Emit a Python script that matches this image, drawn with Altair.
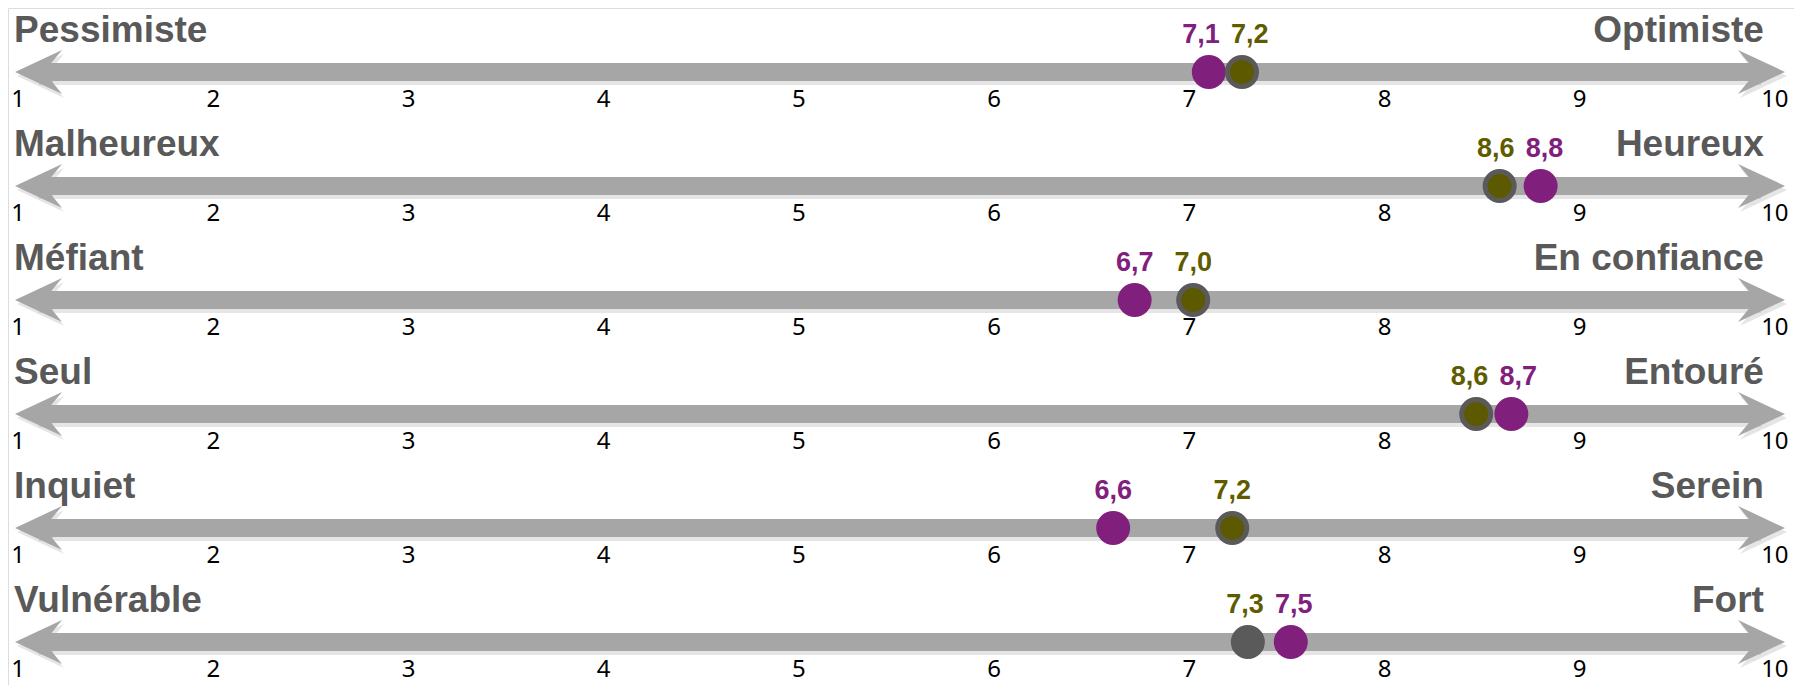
import altair as alt
import pandas as pd

# ---- data ----
left_labels = ["Pessimiste", "Malheureux", "Méfiant", "Seul", "Inquiet", "Vulnérable"]
right_labels = ["Optimiste", "Heureux", "En confiance", "Entouré", "Serein", "Fort"]
# printed values
purple_values = [7.1, 8.8, 6.7, 8.7, 6.6, 7.5]
olive_values = [7.2, 8.6, 7.0, 8.6, 7.2, 7.3]
# where the markers sit on the scale
purple_marker = [7.10, 8.80, 6.72, 8.65, 6.61, 7.52]
olive_marker = [7.27, 8.59, 7.02, 8.47, 7.22, 7.30]
tick_values = list(range(1, 11))

# ---- scale / arrow constants (data units) ----
XMIN, XMAX = 0.948, 10.098
YMIN, YMAX = -0.561, 5.377
TIP_L, TIP_R = 0.984, 10.052
HEAD_HALF = 0.123            # half of arrow-head box in data units
LABEL_L, LABEL_R = 0.979, 9.944
MIN_LABEL_GAP = 0.25         # minimal distance between the two value labels of a row

PURPLE = "#80207c"
OLIVE_TXT = "#5f5c00"
OLIVE_FILL = "#5c5900"
RING = "#5a5a5a"
BAR = "#a6a6a6"
TXT_GRAY = "#595959"

def fmt(v):
    return f"{v:.1f}".replace(".", ",")

n = len(left_labels)
rows = pd.DataFrame({
    "row": list(range(n)),
    "left": left_labels,
    "right": right_labels,
    "tip_l": [TIP_L] * n,
    "tip_r": [TIP_R] * n,
})
rows["head_l"] = rows["tip_l"] + HEAD_HALF
rows["head_r"] = rows["tip_r"] - HEAD_HALF
rows["lab_l"] = LABEL_L
rows["lab_r"] = LABEL_R

ticks = pd.DataFrame([{"row": r, "t": t, "tl": str(t)} for r in range(n) for t in tick_values])
purple = pd.DataFrame({"row": list(range(n)), "v": purple_marker,
                       "lab": [fmt(v) for v in purple_values]})
olive = pd.DataFrame({"row": list(range(n)), "v": olive_marker,
                      "lab": [fmt(v) for v in olive_values]})

# spread the value labels apart when two markers are close
d = (olive["v"] - purple["v"])
push = ((MIN_LABEL_GAP - d.abs()).clip(lower=0) / 2)
sign = d.apply(lambda s: 1 if s >= 0 else -1)
olive["lv"] = olive["v"] + sign * push
purple["lv"] = purple["v"] - sign * push

xs = alt.Scale(domain=[XMIN, XMAX])
ys = alt.Scale(domain=[YMIN, YMAX], reverse=True)
Y = alt.Y("row:Q", scale=ys, axis=None)

def X(field):
    return alt.X(field, type="quantitative", scale=xs, axis=None)

LEFT_HEAD = "M -1 0 L 0.96 -0.92 L 0.5 -0.36 L 0.5 0.36 L 0.96 0.92 Z"
RIGHT_HEAD = "M 1 0 L -0.96 -0.92 L -0.5 -0.36 L -0.5 0.36 L -0.96 0.92 Z"
HEAD_SIZE = 48 * 48

base = alt.Chart(rows)

shadow = base.mark_rule(strokeWidth=18, color="#000000", opacity=0.10, yOffset=4).encode(
    x=X("head_l"), x2="head_r", y=Y)
shaft = base.mark_rule(strokeWidth=18, color=BAR).encode(x=X("head_l"), x2="head_r", y=Y)
head_l_sh = base.mark_point(shape=LEFT_HEAD, size=HEAD_SIZE, filled=True, color="#000000",
                            opacity=0.10, strokeWidth=0, yOffset=4, xOffset=2).encode(x=X("head_l"), y=Y)
head_r_sh = base.mark_point(shape=RIGHT_HEAD, size=HEAD_SIZE, filled=True, color="#000000",
                            opacity=0.10, strokeWidth=0, yOffset=4, xOffset=2).encode(x=X("head_r"), y=Y)
head_l = base.mark_point(shape=LEFT_HEAD, size=HEAD_SIZE, filled=True, color=BAR,
                         opacity=1, strokeWidth=0).encode(x=X("head_l"), y=Y)
head_r = base.mark_point(shape=RIGHT_HEAD, size=HEAD_SIZE, filled=True, color=BAR,
                         opacity=1, strokeWidth=0).encode(x=X("head_r"), y=Y)

left_txt = base.mark_text(align="left", baseline="alphabetic", dy=-30, font="Liberation Sans",
                          fontWeight="bold", fontSize=37, color=TXT_GRAY).encode(
    x=X("lab_l"), y=Y, text="left:N")
right_txt = base.mark_text(align="right", baseline="alphabetic", dy=-30, font="Liberation Sans",
                           fontWeight="bold", fontSize=37, color=TXT_GRAY).encode(
    x=X("lab_r"), y=Y, text="right:N")

tick_txt = alt.Chart(ticks).mark_text(align="center", baseline="middle", dy=28, font="Noto Sans",
                                      fontSize=24, color="#000000").encode(
    x=X("t"), y=Y, text="tl:N")

purple_pts = alt.Chart(purple).mark_point(shape="circle", filled=True, size=34 * 34, color=PURPLE,
                                          opacity=1, strokeWidth=0).encode(x=X("v"), y=Y)
olive_pts = alt.Chart(olive).mark_point(shape="circle", size=29 * 29, strokeWidth=5, stroke=RING,
                                        opacity=1, filled=True).encode(
    x=X("v"), y=Y,
    fill=alt.condition(alt.datum.row == 5, alt.value(RING), alt.value(OLIVE_FILL)))

purple_lab = alt.Chart(purple).mark_text(align="center", baseline="middle", dy=-37,
                                         font="Liberation Sans", fontWeight="bold", fontSize=27,
                                         color=PURPLE).encode(x=X("lv"), y=Y, text="lab:N")
olive_lab = alt.Chart(olive).mark_text(align="center", baseline="middle", dy=-37,
                                       font="Liberation Sans", fontWeight="bold", fontSize=27,
                                       color=OLIVE_TXT).encode(x=X("lv"), y=Y, text="lab:N")

chart = alt.layer(
    shadow, head_l_sh, head_r_sh, shaft, head_l, head_r,
    left_txt, right_txt, tick_txt,
    purple_pts, olive_pts, purple_lab, olive_lab,
).properties(
    width=1786, height=677, padding=0,
    autosize=alt.AutoSizeParams(type="none"),
).configure_view(stroke=None).configure(background="#ffffff")

chart.save("out.html", embed_options={"renderer": "svg", "actions": False})
